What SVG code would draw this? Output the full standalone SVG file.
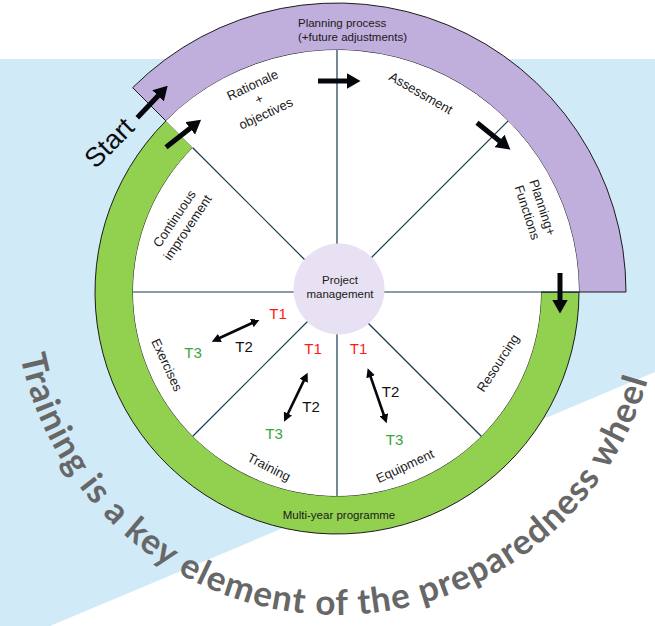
<svg xmlns="http://www.w3.org/2000/svg" width="655" height="626" viewBox="0 0 655 626">
<style>
.lbl{font-family:"Liberation Sans",Arial,sans-serif;font-size:13px;fill:#1a1a1a;text-anchor:middle}
.sm{font-family:"Liberation Sans",Arial,sans-serif;font-size:11.5px;fill:#1a1a1a}
.t{font-family:"Liberation Sans",Arial,sans-serif;font-size:15px;text-anchor:middle}
.t1{fill:#ff1a1a}.t2{fill:#111}.t3{fill:#3aa43a}
.spoke{stroke:#173a4e;stroke-width:1.2;fill:none}
.heavy{stroke:#05070d;stroke-width:5;fill:none;marker-end:url(#hv)}
.dbl{stroke:#05070d;stroke-width:2.6;fill:none;marker-start:url(#dh);marker-end:url(#dh)}
.edge{stroke:#1b1b1b;stroke-width:1}
</style>
<defs>
<marker id="hv" markerUnits="userSpaceOnUse" viewBox="0 0 14 16" markerWidth="14" markerHeight="16" refX="0.5" refY="8" orient="auto"><path d="M0,0 L14,8 L0,16 Z" fill="#05070d"/></marker>
<marker id="dh" markerUnits="userSpaceOnUse" viewBox="0 0 9 9" markerWidth="9" markerHeight="9" refX="1" refY="4.5" orient="auto-start-reverse"><path d="M0,0 L9,4.5 L0,9 Z" fill="#05070d"/></marker>
<path id="tpath" d="M 14 292 A 323 323 0 0 0 660 292"/>
</defs>
<g id="background">
<rect x="0" y="0" width="655" height="626" fill="#ffffff"/>
<rect x="0" y="59" width="655" height="567" fill="#d0eaf8"/>
<polygon points="50,626 655,372 655,626" fill="#ffffff"/>
</g>
<g id="ring-planning">
<path class="edge" d="M 165.88 120.88 A 242 242 0 0 1 579 292 L 626 292 A 289 289 0 0 0 132.65 87.65 Z" fill="#c0aedc"/>
<text class="sm" x="298" y="27">Planning process</text>
<text class="sm" x="298" y="40.5">(+future adjustments)</text>
</g>
<g id="ring-programme">
<path class="edge" d="M 579 292 A 242 242 0 1 1 165.88 120.88 L 192.75 147.75 A 204 204 0 1 0 541 292 Z" fill="#92d050"/>
<text class="sm" x="339" y="519" text-anchor="middle">Multi-year programme</text>
</g>
<g id="wheel">
<circle cx="337" cy="292" r="204" fill="#ffffff"/>
<path d="M 337 292 L 165.88 120.88 A 242 242 0 0 1 579 292 Z" fill="#ffffff"/>
<line x1="541" y1="292" x2="579" y2="292" stroke="#1b1b1b" stroke-width="1.2"/>
</g>
<g id="spokes">
<line class="spoke" x1="337" y1="292" x2="579" y2="292"/>
<line class="spoke" x1="337" y1="292" x2="481.25" y2="436.25"/>
<line class="spoke" x1="337" y1="292" x2="337" y2="496"/>
<line class="spoke" x1="337" y1="292" x2="192.75" y2="436.25"/>
<line class="spoke" x1="337" y1="292" x2="133" y2="292"/>
<line class="spoke" x1="337" y1="292" x2="192.75" y2="147.75"/>
<line class="spoke" x1="337" y1="292" x2="337" y2="50"/>
<line class="spoke" x1="337" y1="292" x2="508.12" y2="120.88"/>
</g>
<g id="seg-rationale"><text class="lbl" transform="translate(259,99) rotate(-25)"><tspan x="0" y="-11">Rationale</tspan><tspan x="0" y="4.5">+</tspan><tspan x="0" y="20.5">objectives</tspan></text></g>
<g id="seg-assessment"><text class="lbl" transform="translate(421,93) rotate(30)" y="4.5">Assessment</text></g>
<g id="seg-planning"><text class="lbl" transform="translate(535,210) rotate(72)"><tspan x="0" y="-3.5">Planning+</tspan><tspan x="0" y="12.5">Functions</tspan></text></g>
<g id="seg-resourcing"><text class="lbl" transform="translate(498,363) rotate(-57)" y="4.5">Resourcing</text></g>
<g id="seg-equipment"><text class="lbl" transform="translate(405,466) rotate(-25)" y="4.5">Equipment</text></g>
<g id="seg-training"><text class="lbl" transform="translate(269,467) rotate(27)" y="4.5">Training</text></g>
<g id="seg-exercises"><text class="lbl" transform="translate(167,365) rotate(65)" y="4.5">Exercises</text></g>
<g id="seg-continuous"><text class="lbl" transform="translate(181,223) rotate(-56)"><tspan x="0" y="-3.5">Continuous</tspan><tspan x="0" y="12.5">improvement</tspan></text></g>
<g id="center">
<circle cx="339" cy="289" r="45.5" fill="#e8e1f3"/>
<text class="sm" x="340" y="284" text-anchor="middle">Project</text>
<text class="sm" x="340" y="298" text-anchor="middle">management</text>
</g>
<g id="start"><text transform="translate(109,142.5) rotate(-45)" y="9.5" text-anchor="middle" font-family="Liberation Sans, Arial, sans-serif" font-size="27" fill="#0d0d0d">Start</text></g>
<g id="tiers">
<text class="t t1" x="278" y="319">T1</text>
<text class="t t2" x="244" y="351.7">T2</text>
<text class="t t3" x="193" y="357.7">T3</text>
<text class="t t1" x="313" y="354">T1</text>
<text class="t t2" x="311" y="411.7">T2</text>
<text class="t t3" x="274" y="439">T3</text>
<text class="t t1" x="358.5" y="354">T1</text>
<text class="t t2" x="390.5" y="396.7">T2</text>
<text class="t t3" x="394.5" y="445">T3</text>
</g>
<g id="connectors">
<line class="heavy" x1="318" y1="81" x2="347" y2="81"/>
<line class="heavy" x1="477" y1="122.7" x2="499.9" y2="141.2"/>
<line class="heavy" x1="560" y1="273" x2="560" y2="300"/>
<line class="heavy" x1="137.3" y1="117.7" x2="158.4" y2="95.5"/>
<line class="heavy" x1="166" y1="147.3" x2="190.5" y2="128"/>
<line class="dbl" x1="219" y1="338.3" x2="252.7" y2="322.7"/>
<line class="dbl" x1="287.5" y1="414.5" x2="304.2" y2="379.9"/>
<line class="dbl" x1="370.3" y1="375.9" x2="384.1" y2="415.7"/>
</g>
<g id="title"><text font-family="Lato, 'Open Sans', sans-serif" font-weight="700" font-size="35" fill="#676767"><textPath href="#tpath" startOffset="64.8" textLength="860" lengthAdjust="spacing">Training is a key element of the preparedness wheel</textPath></text></g>
</svg>
